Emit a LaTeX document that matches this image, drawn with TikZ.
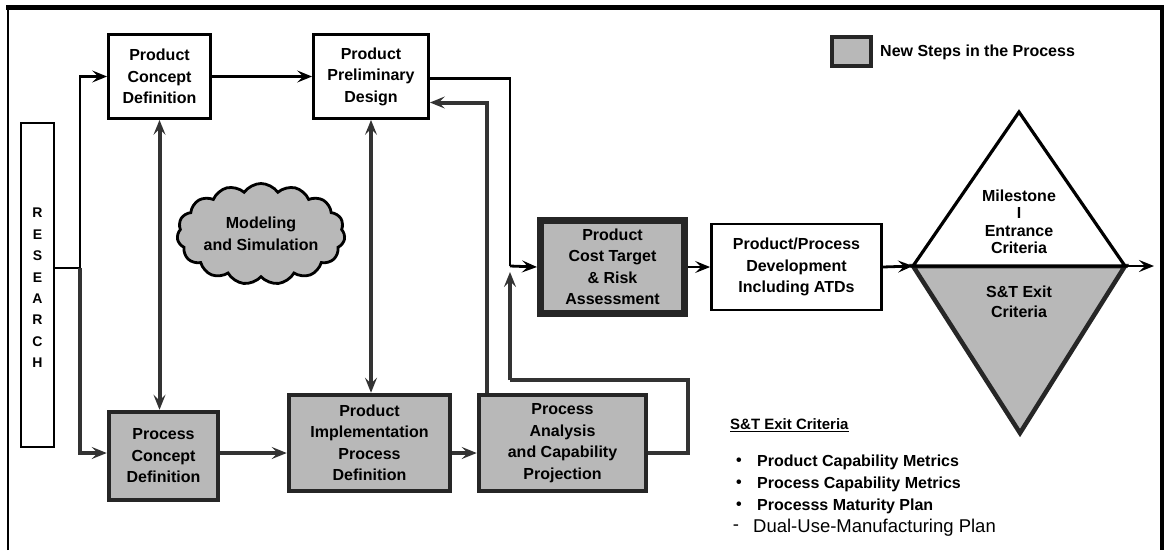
\documentclass[tikz,border=0pt]{standalone}
\usepackage{fontspec}
\setmainfont{Liberation Sans}
\usetikzlibrary{arrows.meta,shapes.symbols,calc}
\begin{document}
\begin{tikzpicture}[x=1pt,y=-1pt,
  txt/.style={font=\fontsize{16}{21.5}\selectfont\bfseries, align=center, inner sep=0pt},
  plainbox/.style={txt, draw=black, line width=2.8pt, fill=white},
  newbox/.style={txt, draw=black!85, line width=4.5pt, fill=black!28},
  tip/.style={-{Stealth[length=15pt,width=12pt,inset=6pt]}},
  dtip/.style={{Stealth[length=15pt,width=12pt,inset=6pt]}-{Stealth[length=15pt,width=12pt,inset=6pt]}},
  solidline/.style={draw=black, line width=2.8pt},
  texline/.style={draw=black!80, line width=4pt},
  research/.style={font=\fontsize{14}{14}\selectfont\bfseries, inner sep=0pt}
]
\useasboundingbox (0,0) rectangle (1169,550);

% outer frame
\draw[line width=2.5pt] (8,550) -- (8,7);
\draw[line width=5pt] (6,7) -- (1164,7);
\draw[line width=4pt] (1162,7) -- (1162,550);

% research column
\node[draw, line width=2.8pt, minimum width=33pt, minimum height=324pt, inner sep=0pt] (research) at (37.5,285) {};
\foreach \l [count=\i from 0] in {R,E,S,E,A,R,C,H}
  \node[research] (r\i) at (37.5,213+21.4*\i) {\l};

% process steps
\node[plainbox, minimum width=102pt, minimum height=84pt] (pcd) at (159.5,76.5) {Product\\Concept\\Definition};
\node[plainbox, minimum width=115pt, minimum height=84pt] (ppd) at (371,76.5) {Product\\Preliminary\\Design};
\node[newbox, minimum width=109pt, minimum height=88pt] (proccd) at (163.5,456) {Process\\Concept\\Definition};
\node[newbox, minimum width=161pt, minimum height=96pt] (pipd) at (369.5,443) {Product\\Implementation\\Process\\Definition};
\node[newbox, minimum width=167pt, minimum height=96pt] (pacp) at (562.5,443) {Process\\Analysis\\and Capability\\Projection};
\node[newbox, line width=7pt, minimum width=144pt, minimum height=93pt] (pct) at (612.5,267) {Product\\Cost Target\\\& Risk\\Assessment};
\node[plainbox, minimum width=170pt, minimum height=86pt] (ppdev) at (796.5,267) {Product/Process\\Development\\Including ATDs};

% modeling cloud
\node[cloud, cloud puffs=15, cloud puff arc=110, aspect=1.9, draw=black, line width=2.8pt,
      fill=black!28, txt, minimum width=152pt, minimum height=86pt] (cloud) at (261,234) {Modeling\\and Simulation};

% legend
\node[newbox, minimum width=39pt, minimum height=29pt] (legbox) at (851.5,51.5) {};
\node[txt, anchor=west] (legtxt) at (880,52) {New Steps in the Process};

% milestone triangles
\coordinate (tl) at (913,266);
\coordinate (tr) at (1125,266);
\coordinate (tapex) at (1019,112);
\coordinate (bapex) at (1020,433);
\coordinate (tout) at (1154,266);
\draw[draw=black!85, line width=4.5pt, fill=black!28, line join=miter] (tl) -- (tr) -- (bapex) -- cycle;
\draw[draw=black, line width=3.2pt, fill=white, line join=miter] (tl) -- (tapex) -- (tr) -- cycle;
\node[txt, font=\fontsize{16}{17.5}\selectfont\bfseries] (mtxt) at (1019,222) {Milestone\\I\\Entrance\\Criteria};
\node[txt, font=\fontsize{16}{20}\selectfont\bfseries] (etxt) at (1019,302) {S\&T Exit\\Criteria};

% junction points
\coordinate (jr) at (80,268);
\coordinate (jm) at (510,266);
\coordinate (floop) at (487,103);
\coordinate (lr) at (688,453);
\coordinate (lu) at (688,380);
\coordinate (ll) at (510,380);
\coordinate (lend) at (510,272);

% research feeds
\draw[solidline] ([yshift=17pt]research.east) -- (jr);
\draw[solidline, tip] (jr) |- (pcd.west);
\draw[texline, tip] (jr) |- ([yshift=3pt]proccd.west);

% forward flow
\draw[solidline, tip] (pcd.east) -- (ppd.west);
\draw[texline, tip] ([yshift=3pt]proccd.east) -- ([yshift=3pt]proccd.east -| pipd.west);
\draw[texline, tip] ([yshift=-10pt]pipd.east) -- ([yshift=-10pt]pipd.east -| pacp.west);

% concept / design links
\draw[texline, dtip] (pcd.south) -- (pcd.south |- proccd.north);
\draw[texline, dtip] (ppd.south) -- (ppd.south |- pipd.north);

% design to cost target, and loop from process analysis
\draw[solidline] ([yshift=-2pt]ppd.east) -| (jm);
\draw[solidline, tip] (jm) -- (pct.west);
\draw[texline] ([yshift=-10pt]pacp.east) -- (lr) -- (lu) -- (ll);
\draw[texline, tip] (ll) -- (lend);

% feedback to preliminary design
\draw[texline, tip] (pacp.north -| floop) |- ([yshift=-26pt]ppd.east);

% on to development and milestone
\draw[solidline, tip] (pct.east) -- (ppdev.west);
\draw[solidline, tip] (ppdev.east) -- (tl);
\draw[solidline, tip] (tr) -- (tout);

% exit criteria list
\node[txt, font=\fontsize{15}{15}\selectfont\bfseries, anchor=west] (sthead) at (730,425) {\underline{S\&T Exit Criteria}};
\node[txt] (b1) at (739,462) {•};
\node[txt, anchor=west] (i1) at (757,462) {Product Capability Metrics};
\node[txt] (b2) at (739,484) {•};
\node[txt, anchor=west] (i2) at (757,484) {Process Capability Metrics};
\node[txt] (b3) at (739,506) {•};
\node[txt, anchor=west] (i3) at (757,506) {Processs Maturity Plan};
\node[inner sep=0pt, font=\fontsize{18.5}{18.5}\selectfont] (b4) at (736,528) {-};
\node[inner sep=0pt, anchor=west, font=\fontsize{18.5}{18.5}\selectfont] (i4) at (753,528) {Dual-Use-Manufacturing Plan};
\end{tikzpicture}
\end{document}
